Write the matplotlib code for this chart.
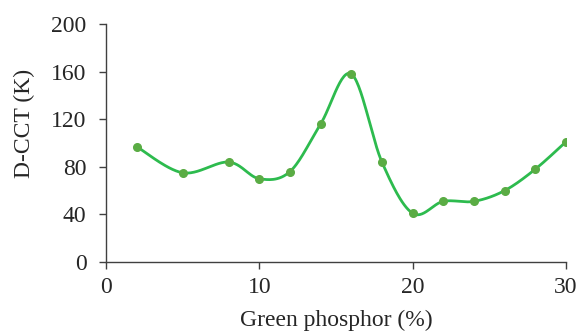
import numpy as np
import matplotlib
matplotlib.use("Agg")
import matplotlib.pyplot as plt

x = [2, 5, 8, 10, 12, 14, 16, 18, 20, 22, 24, 26, 28, 30]
y = [97, 75, 84, 70, 76, 116, 158, 84, 41, 51, 51, 60, 78, 101]
x_ticks = [0, 10, 20, 30]
y_ticks = [0, 40, 80, 120, 160, 200]

plt.rcParams['font.family'] = ['Liberation Serif', 'DejaVu Serif']

def smooth(xs, ys, n=30):
    P = np.column_stack([xs, ys]).astype(float)
    P = np.vstack([P[0], P, P[-1]])
    out = []
    for i in range(1, len(P) - 2):
        p0, p1, p2, p3 = P[i-1], P[i], P[i+1], P[i+2]
        c1 = p1 + (p2 - p0) / 6.0
        c2 = p2 - (p3 - p1) / 6.0
        t = np.linspace(0, 1, n)[:, None]
        seg = ((1-t)**3) * p1 + 3*((1-t)**2)*t*c1 + 3*(1-t)*t**2*c2 + t**3*p2
        out.append(seg if i == 1 else seg[1:])
    s = np.vstack(out)
    return s[:, 0], s[:, 1]

fig = plt.figure(figsize=(5.84, 3.33), dpi=100)
ax = fig.add_axes([0.1815, 0.213, 0.7875, 0.715])
sx, sy = smooth(x, y)
ax.plot(sx, sy, color='#2dbb4e', lw=2.0, zorder=2)
ax.plot(x, y, 'o', color='#5aac44', ms=5.5, zorder=3)

ax.set_xlim(0, 30)
ax.set_ylim(0, 200)
ax.set_xticks(x_ticks)
ax.set_yticks(y_ticks)
for s in ['top', 'right']:
    ax.spines[s].set_visible(False)
for s in ['left', 'bottom']:
    ax.spines[s].set_color('#404040')
    ax.spines[s].set_linewidth(1.0)
ax.tick_params(direction='out', length=5, width=1.0, color='#404040',
               labelsize=17, labelcolor='#262626')
ax.tick_params(axis='y', pad=9)
ax.tick_params(axis='x', pad=6)
ax.set_xlabel('Green phosphor (%)', fontsize=17, color='#262626')
ax.set_ylabel('D-CCT (K)', fontsize=17, color='#262626')
ax.xaxis.set_label_coords(0.5, -0.2)
ax.yaxis.set_label_coords(-0.154, 0.584)
fig.savefig('out.png', dpi=100)
